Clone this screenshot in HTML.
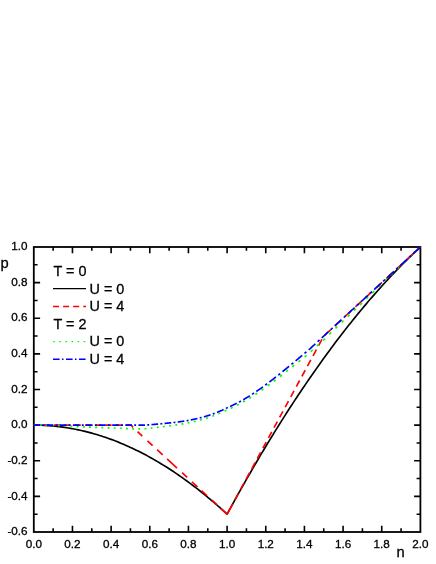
<!DOCTYPE html>
<html><head><meta charset="utf-8"><style>
html,body{margin:0;padding:0;background:#fff;}
svg{display:block;will-change:transform;font-family:"Liberation Sans",sans-serif;}
</style></head><body>
<svg width="436" height="564" viewBox="0 0 436 564">
<rect width="436" height="564" fill="#fff"/>
<rect x="33.8" y="247.0" width="386.60" height="285.0" fill="none" stroke="#000" stroke-width="1.8"/>
<path d="M53.13,532.0 v-3.8 M53.13,247.0 v3.8 M72.46,532.0 v-6.3 M72.46,247.0 v6.3 M91.79,532.0 v-3.8 M91.79,247.0 v3.8 M111.12,532.0 v-6.3 M111.12,247.0 v6.3 M130.45,532.0 v-3.8 M130.45,247.0 v3.8 M149.78,532.0 v-6.3 M149.78,247.0 v6.3 M169.11,532.0 v-3.8 M169.11,247.0 v3.8 M188.44,532.0 v-6.3 M188.44,247.0 v6.3 M207.77,532.0 v-3.8 M207.77,247.0 v3.8 M227.10,532.0 v-6.3 M227.10,247.0 v6.3 M246.43,532.0 v-3.8 M246.43,247.0 v3.8 M265.76,532.0 v-6.3 M265.76,247.0 v6.3 M285.09,532.0 v-3.8 M285.09,247.0 v3.8 M304.42,532.0 v-6.3 M304.42,247.0 v6.3 M323.75,532.0 v-3.8 M323.75,247.0 v3.8 M343.08,532.0 v-6.3 M343.08,247.0 v6.3 M362.41,532.0 v-3.8 M362.41,247.0 v3.8 M381.74,532.0 v-6.3 M381.74,247.0 v6.3 M401.07,532.0 v-3.8 M401.07,247.0 v3.8 M33.8,514.19 h3.8 M420.4,514.19 h-3.8 M33.8,496.38 h6.3 M420.4,496.38 h-6.3 M33.8,478.56 h3.8 M420.4,478.56 h-3.8 M33.8,460.75 h6.3 M420.4,460.75 h-6.3 M33.8,442.94 h3.8 M420.4,442.94 h-3.8 M33.8,425.12 h6.3 M420.4,425.12 h-6.3 M33.8,407.31 h3.8 M420.4,407.31 h-3.8 M33.8,389.50 h6.3 M420.4,389.50 h-6.3 M33.8,371.69 h3.8 M420.4,371.69 h-3.8 M33.8,353.88 h6.3 M420.4,353.88 h-6.3 M33.8,336.06 h3.8 M420.4,336.06 h-3.8 M33.8,318.25 h6.3 M420.4,318.25 h-6.3 M33.8,300.44 h3.8 M420.4,300.44 h-3.8 M33.8,282.62 h6.3 M420.4,282.62 h-6.3 M33.8,264.81 h3.8 M420.4,264.81 h-3.8" stroke="#000" stroke-width="1.6" fill="none"/>
<g fill="none" stroke-width="1.65" stroke-linejoin="round">
<path d="M33.80,425.12 L35.73,425.13 L37.67,425.16 L39.60,425.21 L41.53,425.27 L43.46,425.35 L45.40,425.45 L47.33,425.56 L49.26,425.70 L51.20,425.85 L53.13,426.02 L55.06,426.20 L57.00,426.41 L58.93,426.63 L60.86,426.87 L62.79,427.13 L64.73,427.40 L66.66,427.70 L68.59,428.01 L70.53,428.34 L72.46,428.69 L74.39,429.05 L76.33,429.44 L78.26,429.84 L80.19,430.25 L82.12,430.69 L84.06,431.15 L85.99,431.62 L87.92,432.11 L89.86,432.62 L91.79,433.14 L93.72,433.68 L95.66,434.25 L97.59,434.82 L99.52,435.42 L101.45,436.04 L103.39,436.67 L105.32,437.32 L107.25,437.99 L109.19,438.67 L111.12,439.38 L113.05,440.10 L114.99,440.84 L116.92,441.59 L118.85,442.37 L120.78,443.16 L122.72,443.97 L124.65,444.80 L126.58,445.64 L128.52,446.51 L130.45,447.39 L132.38,448.29 L134.32,449.21 L136.25,450.14 L138.18,451.10 L140.12,452.07 L142.05,453.05 L143.98,454.06 L145.91,455.09 L147.85,456.13 L149.78,457.19 L151.71,458.27 L153.65,459.36 L155.58,460.47 L157.51,461.61 L159.44,462.75 L161.38,463.92 L163.31,465.11 L165.24,466.31 L167.18,467.53 L169.11,468.77 L171.04,470.02 L172.98,471.29 L174.91,472.59 L176.84,473.90 L178.77,475.22 L180.71,476.57 L182.64,477.93 L184.57,479.31 L186.51,480.71 L188.44,482.12 L190.37,483.56 L192.31,485.01 L194.24,486.48 L196.17,487.97 L198.10,489.47 L200.04,491.00 L201.97,492.54 L203.90,494.09 L205.84,495.67 L207.77,497.27 L209.70,498.88 L211.64,500.51 L213.57,502.16 L215.50,503.82 L217.44,505.50 L219.37,507.20 L221.30,508.92 L223.23,510.66 L225.17,512.42 L227.10,514.19 L227.10,514.19 L229.03,510.63 L230.97,507.10 L232.90,503.58 L234.83,500.08 L236.76,496.60 L238.70,493.13 L240.63,489.69 L242.56,486.26 L244.50,482.85 L246.43,479.45 L248.36,476.08 L250.30,472.72 L252.23,469.38 L254.16,466.06 L256.09,462.75 L258.03,459.47 L259.96,456.20 L261.89,452.95 L263.83,449.72 L265.76,446.50 L267.69,443.30 L269.63,440.12 L271.56,436.96 L273.49,433.82 L275.42,430.69 L277.36,427.58 L279.29,424.49 L281.22,421.42 L283.16,418.37 L285.09,415.33 L287.02,412.31 L288.96,409.31 L290.89,406.32 L292.82,403.36 L294.75,400.41 L296.69,397.48 L298.62,394.57 L300.55,391.67 L302.49,388.80 L304.42,385.94 L306.35,383.10 L308.29,380.27 L310.22,377.47 L312.15,374.68 L314.08,371.91 L316.02,369.16 L317.95,366.42 L319.88,363.71 L321.82,361.01 L323.75,358.33 L325.68,355.67 L327.62,353.02 L329.55,350.39 L331.48,347.78 L333.42,345.19 L335.35,342.62 L337.28,340.06 L339.21,337.52 L341.15,335.00 L343.08,332.50 L345.01,330.02 L346.95,327.55 L348.88,325.10 L350.81,322.67 L352.74,320.25 L354.68,317.86 L356.61,315.48 L358.54,313.12 L360.48,310.78 L362.41,308.45 L364.34,306.15 L366.28,303.86 L368.21,301.59 L370.14,299.33 L372.07,297.10 L374.01,294.88 L375.94,292.68 L377.87,290.50 L379.81,288.33 L381.74,286.19 L383.67,284.06 L385.61,281.95 L387.54,279.86 L389.47,277.78 L391.40,275.72 L393.34,273.68 L395.27,271.66 L397.20,269.66 L399.14,267.67 L401.07,265.70 L403.00,263.75 L404.94,261.82 L406.87,259.91 L408.80,258.01 L410.74,256.13 L412.67,254.27 L414.60,252.42 L416.53,250.60 L418.47,248.79 L420.40,247.00" stroke="#000"/>
<path d="M33.80,425.12 L34.34,425.12 L34.87,425.12 L35.41,425.12 L35.95,425.12 L36.48,425.12 L37.02,425.12 L37.55,425.12 L38.09,425.12 L38.63,425.12 L39.16,425.12 L39.70,425.12 M43.87,425.12 L44.38,425.12 L44.89,425.12 L45.40,425.12 L45.90,425.12 L46.41,425.12 L46.92,425.12 L47.43,425.12 L47.94,425.12 L48.45,425.12 L48.95,425.12 L49.46,425.12 L49.97,425.12 M54.14,425.12 L54.65,425.12 L55.16,425.12 L55.66,425.12 L56.17,425.12 L56.68,425.12 L57.19,425.12 L57.70,425.12 L58.21,425.12 L58.72,425.12 L59.22,425.12 L59.73,425.12 L60.24,425.12 M64.41,425.12 L64.92,425.12 L65.43,425.12 L65.94,425.12 L66.44,425.12 L66.95,425.12 L67.46,425.12 L67.97,425.12 L68.48,425.12 L68.98,425.12 L69.49,425.12 L70.00,425.12 L70.51,425.12 M74.68,425.12 L75.19,425.12 L75.70,425.12 L76.21,425.12 L76.71,425.12 L77.22,425.12 L77.73,425.12 L78.24,425.12 L78.75,425.12 L79.25,425.12 L79.76,425.12 L80.27,425.12 L80.78,425.12 M84.95,425.12 L85.46,425.12 L85.97,425.12 L86.47,425.12 L86.98,425.12 L87.49,425.12 L88.00,425.12 L88.51,425.12 L89.02,425.12 L89.52,425.12 L90.03,425.12 L90.54,425.12 L91.05,425.12 M95.22,425.12 L95.73,425.12 L96.24,425.12 L96.75,425.12 L97.25,425.12 L97.76,425.12 L98.27,425.12 L98.78,425.12 L99.29,425.12 L99.79,425.12 L100.30,425.12 L100.81,425.12 L101.32,425.12 M105.49,425.12 L106.00,425.12 L106.51,425.12 L107.02,425.12 L107.52,425.12 L108.03,425.12 L108.54,425.12 L109.05,425.12 L109.56,425.12 L110.06,425.12 L110.57,425.12 L111.08,425.12 L111.59,425.12 M115.76,425.12 L116.27,425.12 L116.78,425.12 L117.28,425.12 L117.79,425.12 L118.30,425.12 L118.81,425.12 L119.32,425.12 L119.83,425.12 L120.33,425.12 L120.84,425.12 L121.35,425.12 L121.86,425.12 M126,425.12 L131.2,425.12 L133,427.47 M137.50,431.62 L142.30,436.04 M147.50,440.84 L152.60,445.54 M157.10,449.68 L162.70,454.84 M167.10,458.90 L177.00,468.02 M182.10,472.72 L187.20,477.42 M191.90,481.75 L197.50,486.91 M201.50,490.60 L207.10,495.76 M211.90,500.18 L217.10,504.97 M220.75,508.34 L227.10,514.19 L232.74,503.80 M318.61,345.53 L321.92,339.43 M313.04,355.80 L316.35,349.70 M307.47,366.07 L310.78,359.97 M301.90,376.34 L305.21,370.24 M296.32,386.61 L299.63,380.51 M290.75,396.88 L294.06,390.78 M285.18,407.15 L288.49,401.05 M279.61,417.42 L282.92,411.32 M274.03,427.69 L277.34,421.59 M268.46,437.96 L271.77,431.86 M262.89,448.23 L266.20,442.13 M257.32,458.50 L260.63,452.40 M251.74,468.77 L255.05,462.67 M246.17,479.04 L249.48,472.94 M240.60,489.31 L243.91,483.21 M235.03,499.58 L238.34,493.48 M324.60,335.28 L325.11,334.81 L325.62,334.34 L326.12,333.87 L326.63,333.41 L327.14,332.94 L327.65,332.47 L328.16,332.00 L328.67,331.53 L329.18,331.06 L329.68,330.59 L330.19,330.13 L330.70,329.66 M334.87,325.82 L335.38,325.35 L335.89,324.88 L336.39,324.41 L336.90,323.94 L337.41,323.47 L337.92,323.00 L338.43,322.54 L338.94,322.07 L339.45,321.60 L339.95,321.13 L340.46,320.66 L340.97,320.19 M345.14,316.35 L345.65,315.88 L346.16,315.41 L346.67,314.95 L347.17,314.48 L347.68,314.01 L348.19,313.54 L348.70,313.07 L349.21,312.60 L349.72,312.14 L350.22,311.67 L350.73,311.20 L351.24,310.73 M355.41,306.89 L355.92,306.42 L356.43,305.95 L356.94,305.48 L357.44,305.01 L357.95,304.55 L358.46,304.08 L358.97,303.61 L359.48,303.14 L359.99,302.67 L360.49,302.20 L361.00,301.74 L361.51,301.27 M365.68,297.42 L366.19,296.96 L366.70,296.49 L367.21,296.02 L367.71,295.55 L368.22,295.08 L368.73,294.61 L369.24,294.15 L369.75,293.68 L370.25,293.21 L370.76,292.74 L371.27,292.27 L371.78,291.80 M375.95,287.96 L376.46,287.49 L376.97,287.02 L377.48,286.56 L377.98,286.09 L378.49,285.62 L379.00,285.15 L379.51,284.68 L380.02,284.21 L380.53,283.74 L381.03,283.28 L381.54,282.81 L382.05,282.34 M386.22,278.50 L386.73,278.03 L387.24,277.56 L387.75,277.09 L388.25,276.62 L388.76,276.15 L389.27,275.69 L389.78,275.22 L390.29,274.75 L390.80,274.28 L391.30,273.81 L391.81,273.34 L392.32,272.88 M396.49,269.03 L397.00,268.56 L397.51,268.10 L398.01,267.63 L398.52,267.16 L399.03,266.69 L399.54,266.22 L400.05,265.75 L400.56,265.29 L401.07,264.82 L401.57,264.35 L402.08,263.88 L402.59,263.41 M406.76,259.57 L407.27,259.10 L407.78,258.63 L408.28,258.16 L408.79,257.70 L409.30,257.23 L409.81,256.76 L410.32,256.29 L410.83,255.82 L411.34,255.35 L411.84,254.88 L412.35,254.42 L412.86,253.95 M417.03,250.11 L417.59,249.59 L418.15,249.07 L418.72,248.55 L419.28,248.04 L419.84,247.52 L420.40,247.00" stroke="#f00"/>
<path d="M33.80,425.12 L34.37,425.13 L34.93,425.14 L35.50,425.14 M39.76,425.20 L40.39,425.21 L41.03,425.23 L41.66,425.24 M45.92,425.33 L46.55,425.35 L47.19,425.36 L47.82,425.38 M52.08,425.50 L52.71,425.51 L53.35,425.53 L53.98,425.55 M58.24,425.69 L58.87,425.71 L59.51,425.73 L60.14,425.75 M64.40,425.90 L65.03,425.92 L65.67,425.95 L66.30,425.98 M70.56,426.19 L71.19,426.23 L71.83,426.26 L72.46,426.30 M76.72,426.54 L77.35,426.57 L77.99,426.61 L78.62,426.64 M82.88,426.85 L83.51,426.88 L84.15,426.91 L84.78,426.94 M89.04,427.12 L89.67,427.15 L90.31,427.18 L90.94,427.20 M95.20,427.38 L95.83,427.40 L96.47,427.43 L97.10,427.45 M101.36,427.62 L101.99,427.64 L102.63,427.66 L103.26,427.68 M107.52,427.82 L108.15,427.84 L108.79,427.86 L109.42,427.88 M113.68,428.01 L114.31,428.04 L114.95,428.06 L115.58,428.08 M119.84,428.24 L120.47,428.26 L121.11,428.29 L121.74,428.33 M126.00,428.60 L126.63,428.65 L127.27,428.68 L127.90,428.72 M132.16,428.87 L132.79,428.87 L133.43,428.86 L134.06,428.86 M138.32,428.84 L138.95,428.83 L139.59,428.83 L140.22,428.82 M144.48,428.74 L145.11,428.70 L145.75,428.65 L146.38,428.60 M150.64,428.19 L151.27,428.12 L151.91,428.05 L152.54,427.98 M156.80,427.48 L157.43,427.40 L158.07,427.33 L158.70,427.25 M162.96,426.71 L163.59,426.62 L164.23,426.54 L164.86,426.46 M169.12,425.92 L169.75,425.84 L170.39,425.76 L171.02,425.68 M175.28,425.10 L175.91,425.01 L176.55,424.91 L177.18,424.82 M181.44,424.15 L182.07,424.04 L182.71,423.93 L183.34,423.82 M187.60,423.03 L188.23,422.90 L188.87,422.78 L189.50,422.65 M193.76,421.71 L194.39,421.56 L195.03,421.41 L195.66,421.26 M199.92,420.16 L200.55,419.98 L201.19,419.81 L201.82,419.63 M206.08,418.35 L206.71,418.14 L207.35,417.94 L207.98,417.73 M212.24,416.25 L212.87,416.01 L213.51,415.77 L214.14,415.53 M218.40,413.81 L219.03,413.54 L219.67,413.27 L220.30,412.99 M224.56,411.04 L225.19,410.73 L225.83,410.43 L226.46,410.12 M230.72,408.21 L231.35,407.92 L231.99,407.63 L232.62,407.33 M236.88,405.25 L237.51,404.93 L238.15,404.60 L238.78,404.27 M243.04,401.95 L243.67,401.59 L244.31,401.23 L244.94,400.86 M249.20,398.32 L249.83,397.93 L250.47,397.53 L251.10,397.14 M255.36,394.41 L255.99,393.99 L256.63,393.57 L257.26,393.15 M261.52,390.24 L262.15,389.80 L262.79,389.35 L263.42,388.91 M267.68,385.84 L268.31,385.38 L268.95,384.91 L269.58,384.45 M273.84,381.25 L274.47,380.77 L275.11,380.29 L275.74,379.80 M280.00,376.50 L280.63,376.01 L281.27,375.51 L281.90,375.01 M286.16,371.63 L286.79,371.12 L287.43,370.62 L288.06,370.12 M292.32,366.75 L292.95,366.24 L293.59,365.74 L294.22,365.24 M298.48,361.83 L299.11,361.33 L299.75,360.82 L300.38,360.31 M304.64,356.85 L305.27,356.33 L305.91,355.81 L306.54,355.28 M310.80,351.65 L311.43,351.08 L312.07,350.50 L312.70,349.93 M316.96,346.04 L317.59,345.46 L318.23,344.88 L318.86,344.30 M323.12,340.37 L323.75,339.77 L324.39,339.16 L325.02,338.55 M329.28,334.37 L329.91,333.75 L330.55,333.12 L331.18,332.50 M335.44,328.36 L336.07,327.75 L336.71,327.14 L337.34,326.54 M341.60,322.47 L342.23,321.87 L342.87,321.26 L343.50,320.66 M347.76,316.60 L348.39,316.00 L349.03,315.39 L349.66,314.79 M353.92,310.71 L354.55,310.10 L355.19,309.50 L355.82,308.89 M360.08,304.79 L360.71,304.18 L361.35,303.57 L361.98,302.97 M366.24,298.86 L366.87,298.25 L367.51,297.64 L368.14,297.03 M372.40,292.91 L373.03,292.30 L373.67,291.68 L374.30,291.07 M378.56,286.91 L379.19,286.29 L379.83,285.67 L380.46,285.05 M384.72,280.89 L385.35,280.27 L385.99,279.66 L386.62,279.04 M390.88,274.93 L391.51,274.33 L392.15,273.72 L392.78,273.12 M397.04,269.05 L397.67,268.45 L398.31,267.84 L398.94,267.24 M403.20,263.19 L403.83,262.59 L404.47,261.99 L405.10,261.39 M409.36,257.35 L409.99,256.76 L410.63,256.16 L411.26,255.56 M415.52,251.56 L416.15,250.96 L416.79,250.37 L417.42,249.78" stroke="#0f0"/>
<path d="M33.80,425.12 L34.33,425.12 L34.87,425.12 L35.40,425.12 L35.93,425.12 L36.47,425.12 L37.00,425.12 L37.53,425.12 L38.07,425.12 L38.60,425.12 L39.13,425.12 L39.67,425.12 L40.20,425.12 M42.50,425.12 L43.13,425.12 L43.77,425.12 L44.40,425.12 M46.70,425.12 L47.21,425.12 L47.72,425.12 L48.22,425.12 L48.73,425.12 L49.24,425.12 L49.75,425.12 L50.25,425.12 L50.76,425.12 L51.27,425.12 L51.78,425.12 L52.28,425.12 L52.79,425.12 L53.30,425.12 M55.60,425.12 L56.23,425.12 L56.87,425.12 L57.50,425.12 M59.80,425.12 L60.31,425.12 L60.82,425.12 L61.32,425.12 L61.83,425.12 L62.34,425.12 L62.85,425.12 L63.35,425.12 L63.86,425.12 L64.37,425.12 L64.88,425.12 L65.38,425.12 L65.89,425.12 L66.40,425.12 M68.70,425.12 L69.33,425.12 L69.97,425.12 L70.60,425.12 M72.90,425.12 L73.41,425.12 L73.92,425.12 L74.42,425.12 L74.93,425.12 L75.44,425.12 L75.95,425.12 L76.45,425.12 L76.96,425.12 L77.47,425.12 L77.98,425.12 L78.48,425.12 L78.99,425.12 L79.50,425.12 M81.80,425.12 L82.43,425.12 L83.07,425.12 L83.70,425.12 M86.00,425.12 L86.51,425.12 L87.02,425.12 L87.52,425.12 L88.03,425.12 L88.54,425.12 L89.05,425.12 L89.55,425.12 L90.06,425.12 L90.57,425.12 L91.08,425.12 L91.58,425.12 L92.09,425.12 L92.60,425.12 M94.90,425.12 L95.53,425.12 L96.17,425.12 L96.80,425.12 M99.10,425.12 L99.61,425.12 L100.12,425.12 L100.62,425.12 L101.13,425.12 L101.64,425.12 L102.15,425.12 L102.65,425.12 L103.16,425.12 L103.67,425.12 L104.18,425.12 L104.68,425.12 L105.19,425.12 L105.70,425.12 M108.00,425.12 L108.63,425.12 L109.27,425.12 L109.90,425.12 M112.20,425.12 L112.71,425.12 L113.22,425.12 L113.72,425.12 L114.23,425.12 L114.74,425.12 L115.25,425.12 L115.75,425.12 L116.26,425.12 L116.77,425.12 L117.28,425.12 L117.78,425.12 L118.29,425.12 L118.80,425.12 M121.10,425.12 L121.73,425.12 L122.37,425.12 L123.00,425.12 M125.30,425.12 L125.81,425.12 L126.32,425.12 L126.82,425.12 L127.33,425.12 L127.84,425.12 L128.35,425.12 L128.85,425.12 L129.36,425.12 L129.87,425.12 L130.38,425.12 L130.88,425.12 L131.39,425.12 L131.90,425.12 M134.20,425.12 L134.83,425.12 L135.47,425.12 L136.10,425.12 M138.40,425.12 L138.91,425.12 L139.42,425.12 L139.92,425.12 L140.43,425.12 L140.94,425.12 L141.45,425.12 L141.95,425.12 L142.46,425.12 L142.97,425.12 L143.48,425.12 L143.98,425.12 L144.49,425.10 L145.00,425.07 M147.30,424.93 L147.93,424.88 L148.57,424.84 L149.20,424.79 M151.50,424.62 L152.01,424.58 L152.52,424.54 L153.02,424.49 L153.53,424.45 L154.04,424.41 L154.55,424.36 L155.05,424.32 L155.56,424.28 L156.07,424.23 L156.58,424.18 L157.08,424.14 L157.59,424.09 L158.10,424.04 M160.40,423.83 L161.03,423.77 L161.67,423.71 L162.30,423.64 M164.60,423.42 L165.11,423.37 L165.62,423.32 L166.12,423.27 L166.63,423.22 L167.14,423.17 L167.65,423.12 L168.15,423.07 L168.66,423.02 L169.17,422.97 L169.68,422.92 L170.18,422.87 L170.69,422.82 L171.20,422.77 M173.50,422.52 L174.13,422.45 L174.77,422.38 L175.40,422.30 M177.70,422.02 L178.21,421.95 L178.72,421.88 L179.22,421.81 L179.73,421.75 L180.24,421.67 L180.75,421.60 L181.25,421.53 L181.76,421.46 L182.27,421.38 L182.78,421.31 L183.28,421.23 L183.79,421.15 L184.30,421.07 M186.60,420.69 L187.23,420.58 L187.87,420.47 L188.50,420.36 M190.80,419.93 L191.31,419.83 L191.82,419.73 L192.32,419.62 L192.83,419.52 L193.34,419.42 L193.85,419.31 L194.35,419.20 L194.86,419.09 L195.37,418.98 L195.88,418.86 L196.38,418.75 L196.89,418.63 L197.40,418.51 M199.70,417.95 L200.33,417.79 L200.97,417.63 L201.60,417.46 M203.90,416.82 L204.41,416.68 L204.92,416.53 L205.42,416.38 L205.93,416.23 L206.44,416.08 L206.95,415.92 L207.45,415.76 L207.96,415.60 L208.47,415.44 L208.98,415.27 L209.48,415.11 L209.99,414.94 L210.50,414.77 M212.80,413.96 L213.43,413.73 L214.07,413.50 L214.70,413.26 M217.00,412.36 L217.51,412.16 L218.02,411.95 L218.52,411.74 L219.03,411.53 L219.54,411.31 L220.05,411.10 L220.55,410.88 L221.06,410.66 L221.57,410.43 L222.08,410.21 L222.58,409.98 L223.09,409.75 L223.60,409.51 M225.90,408.43 L226.53,408.12 L227.17,407.81 L227.80,407.54 M230.10,406.52 L230.61,406.28 L231.12,406.05 L231.62,405.81 L232.13,405.57 L232.64,405.33 L233.15,405.09 L233.65,404.84 L234.16,404.59 L234.67,404.34 L235.18,404.09 L235.68,403.83 L236.19,403.57 L236.70,403.31 M239.00,402.10 L239.63,401.76 L240.27,401.41 L240.90,401.06 M243.20,399.76 L243.71,399.47 L244.22,399.17 L244.72,398.87 L245.23,398.57 L245.74,398.27 L246.25,397.96 L246.75,397.65 L247.26,397.34 L247.77,397.03 L248.28,396.72 L248.78,396.40 L249.29,396.08 L249.80,395.76 M252.10,394.29 L252.73,393.87 L253.37,393.46 L254.00,393.04 M256.30,391.49 L256.81,391.14 L257.32,390.79 L257.82,390.44 L258.33,390.09 L258.84,389.73 L259.35,389.38 L259.85,389.02 L260.36,388.66 L260.87,388.30 L261.38,387.94 L261.88,387.57 L262.39,387.21 L262.90,386.84 M265.20,385.16 L265.83,384.69 L266.47,384.22 L267.10,383.75 M269.40,382.01 L269.91,381.62 L270.42,381.24 L270.92,380.85 L271.43,380.46 L271.94,380.06 L272.45,379.67 L272.95,379.28 L273.46,378.88 L273.97,378.49 L274.48,378.09 L274.98,377.69 L275.49,377.29 L276.00,376.89 M278.30,375.06 L278.93,374.55 L279.57,374.04 L280.20,373.53 M282.50,371.67 L283.01,371.25 L283.52,370.84 L284.02,370.42 L284.53,370.00 L285.04,369.58 L285.55,369.17 L286.05,368.75 L286.56,368.33 L287.07,367.91 L287.58,367.49 L288.08,367.07 L288.59,366.66 L289.10,366.24 M291.40,364.34 L292.03,363.82 L292.67,363.30 L293.30,362.78 M295.60,360.88 L296.11,360.46 L296.62,360.03 L297.12,359.61 L297.63,359.19 L298.14,358.77 L298.65,358.35 L299.15,357.92 L299.66,357.50 L300.17,357.08 L300.68,356.65 L301.18,356.23 L301.69,355.80 L302.20,355.37 M304.50,353.43 L305.13,352.90 L305.77,352.36 L306.40,351.82 M308.70,349.85 L309.21,349.41 L309.72,348.97 L310.22,348.53 L310.73,348.06 L311.24,347.59 L311.75,347.12 L312.25,346.66 L312.76,346.19 L313.27,345.72 L313.78,345.25 L314.28,344.78 L314.79,344.32 L315.30,343.85 M317.60,341.73 L318.23,341.15 L318.87,340.56 L319.50,339.98 M321.80,337.86 L322.31,337.39 L322.82,336.92 L323.32,336.46 L323.83,335.99 L324.34,335.52 L324.85,335.05 L325.35,334.58 L325.86,334.12 L326.37,333.65 L326.88,333.18 L327.38,332.71 L327.89,332.25 L328.40,331.78 M330.70,329.66 L331.33,329.07 L331.97,328.49 L332.60,327.91 M334.90,325.79 L335.41,325.32 L335.92,324.85 L336.42,324.38 L336.93,323.92 L337.44,323.45 L337.95,322.98 L338.45,322.51 L338.96,322.05 L339.47,321.58 L339.98,321.11 L340.48,320.64 L340.99,320.17 L341.50,319.71 M343.80,317.59 L344.43,317.00 L345.07,316.42 L345.70,315.84 M348.00,313.72 L348.51,313.25 L349.02,312.78 L349.52,312.31 L350.03,311.84 L350.54,311.38 L351.05,310.91 L351.55,310.44 L352.06,309.97 L352.57,309.51 L353.08,309.04 L353.58,308.57 L354.09,308.10 L354.60,307.63 M356.90,305.51 L357.53,304.93 L358.17,304.35 L358.80,303.76 M361.10,301.64 L361.61,301.18 L362.12,300.71 L362.62,300.24 L363.13,299.77 L363.64,299.31 L364.15,298.84 L364.65,298.37 L365.16,297.90 L365.67,297.43 L366.18,296.97 L366.68,296.50 L367.19,296.03 L367.70,295.56 M370.00,293.44 L370.63,292.86 L371.27,292.28 L371.90,291.69 M374.20,289.57 L374.71,289.11 L375.22,288.64 L375.72,288.17 L376.23,287.70 L376.74,287.23 L377.25,286.77 L377.75,286.30 L378.26,285.83 L378.77,285.36 L379.28,284.89 L379.78,284.43 L380.29,283.96 L380.80,283.49 M383.10,281.37 L383.73,280.79 L384.37,280.20 L385.00,279.62 M387.30,277.50 L387.81,277.03 L388.32,276.57 L388.82,276.10 L389.33,275.63 L389.84,275.16 L390.35,274.69 L390.85,274.23 L391.36,273.76 L391.87,273.29 L392.38,272.82 L392.88,272.36 L393.39,271.89 L393.90,271.42 M396.20,269.30 L396.83,268.72 L397.47,268.13 L398.10,267.55 M400.40,265.43 L400.91,264.96 L401.42,264.49 L401.92,264.03 L402.43,263.56 L402.94,263.09 L403.45,262.62 L403.95,262.16 L404.46,261.69 L404.97,261.22 L405.48,260.75 L405.98,260.28 L406.49,259.82 L407.00,259.35 M409.30,257.23 L409.93,256.64 L410.57,256.06 L411.20,255.48 M413.50,253.36 L414.01,252.89 L414.52,252.42 L415.02,251.95 L415.53,251.49 L416.04,251.02 L416.55,250.55 L417.05,250.08 L417.56,249.62 L418.07,249.15 L418.58,248.68 L419.08,248.21 L419.59,247.74 L420.10,247.28" stroke="#00f"/>
</g>
<g font-size="11.7" fill="#000" stroke="#000" stroke-width="0.3"><text x="33.80" y="548" text-anchor="middle">0.0</text><text x="72.46" y="548" text-anchor="middle">0.2</text><text x="111.12" y="548" text-anchor="middle">0.4</text><text x="149.78" y="548" text-anchor="middle">0.6</text><text x="188.44" y="548" text-anchor="middle">0.8</text><text x="227.10" y="548" text-anchor="middle">1.0</text><text x="265.76" y="548" text-anchor="middle">1.2</text><text x="304.42" y="548" text-anchor="middle">1.4</text><text x="343.08" y="548" text-anchor="middle">1.6</text><text x="381.74" y="548" text-anchor="middle">1.8</text><text x="420.40" y="548" text-anchor="middle">2.0</text><text x="27.6" y="535.20" text-anchor="end">-0.6</text><text x="27.6" y="499.57" text-anchor="end">-0.4</text><text x="27.6" y="463.95" text-anchor="end">-0.2</text><text x="27.6" y="428.32" text-anchor="end">0.0</text><text x="27.6" y="392.70" text-anchor="end">0.2</text><text x="27.6" y="357.07" text-anchor="end">0.4</text><text x="27.6" y="321.45" text-anchor="end">0.6</text><text x="27.6" y="285.82" text-anchor="end">0.8</text><text x="27.6" y="250.20" text-anchor="end">1.0</text></g>
<g font-size="14.7" fill="#000" stroke="#000" stroke-width="0.3"><text x="0.5" y="268.4">p</text><text x="396.5" y="556.7">n</text></g>
<g font-size="14.4" fill="#000" stroke="#000" stroke-width="0.3">
<text x="53.5" y="275.7">T = 0</text>
<text x="89.5" y="294">U = 0</text>
<text x="89.5" y="311.4">U = 4</text>
<text x="53.5" y="328.5">T = 2</text>
<text x="89.5" y="346.4">U = 0</text>
<text x="89.5" y="364">U = 4</text>
</g>
<g fill="none" stroke-width="1.45">
<path d="M53,288.7H86" stroke="#000" stroke-width="1.25"/>
<path d="M53,306.5H86" stroke="#f00" stroke-dasharray="6 4.1"/>
<path d="M53.2,341.6H86" stroke="#0f0" stroke-dasharray="1.6 4.5"/>
<path d="M53,359.2H86" stroke="#00f" stroke-dasharray="6.6 2.3 1.6 2.5"/>
</g>
</svg></body></html>
